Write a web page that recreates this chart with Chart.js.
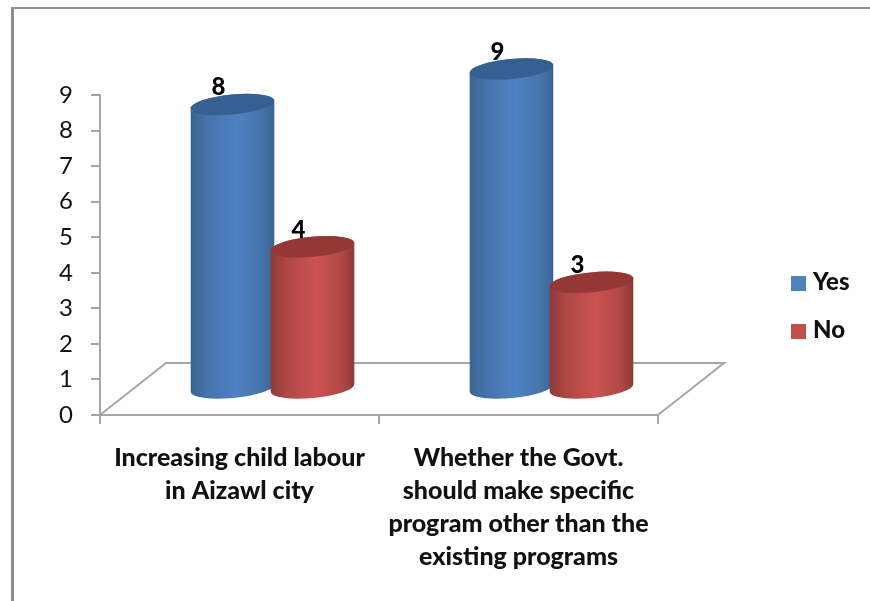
<!DOCTYPE html>
<html lang="en">
<head>
  <meta charset="UTF-8">
  <title>Child labour survey</title>
  <script src="https://cdn.jsdelivr.net/npm/chart.js"></script>
  <style>
    body { margin: 0; background: #fff; font-family: Lato, sans-serif; }
    #frame {
      position: absolute; left: 11px; top: 7px; right: 0; bottom: 0;
      border-left: 3px solid #8e8e8e; border-top: 2px solid #8e8e8e;
    }
    #wrap { position: absolute; left: 0; top: 0; width: 870px; height: 601px; }
    #legend { position: absolute; left: 791px; top: 264px; font-weight: 900; font-size: 24px; color: #111; }
    #legend div { height: 48px; line-height: 34px; white-space: nowrap; }
    #legend span { display: inline-block; width: 15px; height: 15px; margin-right: 7px; vertical-align: -1px; }
  </style>
</head>
<body>
  <div id="frame"></div>
  <div id="wrap"><canvas id="chart" width="870" height="601"></canvas></div>
  <div id="legend"></div>

  <script>
    const categories = [
      ['Increasing child labour', 'in Aizawl city'],
      ['Whether the Govt.', 'should make specific', 'program other than the', 'existing programs']
    ];
    const yesValues = [8, 9];
    const noValues = [4, 3];
    const yTicks = [0, 1, 2, 3, 4, 5, 6, 7, 8, 9];

    const axisGrey = '#a6a6a6';
    // how far the floor recedes, cylinders stand halfway back on it
    const floorDx = 66, floorDy = 52;

    const palette = [
      { edge: '#3a6494', side: '#4673a9', mid: '#4f82c4', top: '#376092' },
      { edge: '#8c3a38', side: '#b04745', mid: '#cb5350', top: '#953735' }
    ];

    function drawFloor(chart) {
      const { ctx, chartArea: a } = chart;
      ctx.save();
      ctx.strokeStyle = axisGrey;
      ctx.lineWidth = 2;
      ctx.beginPath();
      ctx.moveTo(a.left, a.bottom);
      ctx.lineTo(a.left + floorDx, a.bottom - floorDy);
      ctx.lineTo(a.right + floorDx, a.bottom - floorDy);
      ctx.lineTo(a.right, a.bottom);
      ctx.stroke();
      ctx.restore();
    }

    function drawCylinder(ctx, bar, colors) {
      const cx = bar.x + floorDx / 2;
      const topY = bar.y - floorDy / 2;
      const baseY = bar.base - floorDy / 2;
      const rx = bar.width / 2, ry = 10, tilt = -0.095;

      const grad = ctx.createLinearGradient(cx - rx, 0, cx + rx, 0);
      grad.addColorStop(0, colors.edge);
      grad.addColorStop(0.2, colors.side);
      grad.addColorStop(0.55, colors.mid);
      grad.addColorStop(0.85, colors.side);
      grad.addColorStop(1, colors.edge);

      ctx.fillStyle = grad;
      ctx.beginPath();
      ctx.ellipse(cx, topY, rx, ry, tilt, Math.PI, 0);
      ctx.ellipse(cx, baseY, rx, ry, tilt, 0, Math.PI);
      ctx.closePath();
      ctx.fill();

      ctx.fillStyle = colors.top;
      ctx.beginPath();
      ctx.ellipse(cx, topY, rx, ry, tilt, 0, Math.PI * 2);
      ctx.fill();
    }

    const cylinders = {
      id: 'cylinders',
      beforeDatasetsDraw: drawFloor,
      beforeDatasetDraw: () => false,
      afterDatasetsDraw(chart) {
        const ctx = chart.ctx;
        chart.data.datasets.forEach((ds, i) => {
          chart.getDatasetMeta(i).data.forEach(bar => {
            drawCylinder(ctx, bar, palette[i]);
          });
        });
        // value labels sit above the back rim, left of centre
        ctx.save();
        ctx.font = '900 24px Lato';
        ctx.fillStyle = '#000';
        ctx.textAlign = 'center';
        ctx.textBaseline = 'middle';
        chart.data.datasets.forEach((ds, i) => {
          chart.getDatasetMeta(i).data.forEach((bar, j) => {
            ctx.fillText(ds.data[j], bar.x + floorDx / 2 - 14, bar.y - 43);
          });
        });
        ctx.restore();
      }
    };

    const chart = new Chart(document.getElementById('chart'), {
      type: 'bar',
      data: {
        labels: categories,
        datasets: [
          { label: 'Yes', data: yesValues, backgroundColor: '#4f81bd' },
          { label: 'No', data: noValues, backgroundColor: '#c0504d' }
        ]
      },
      options: {
        responsive: false,
        animation: false,
        events: [],
        categoryPercentage: 0.5735,
        barPercentage: 1.05,
        layout: { padding: { top: 95, right: 212 } },
        plugins: { legend: { display: false }, tooltip: { enabled: false } },
        scales: {
          x: {
            afterFit(scale) { scale.height = 186; },
            border: { color: axisGrey, width: 2 },
            grid: { drawOnChartArea: false, color: axisGrey, lineWidth: 2, tickLength: 9 },
            ticks: {
              color: '#111', padding: 17, maxRotation: 0, autoSkip: false,
              font: { family: 'Lato', size: 25, weight: '900', lineHeight: 1.33 }
            }
          },
          y: {
            min: 0,
            max: 9,
            afterFit(scale) { scale.width = 100; },
            afterBuildTicks(scale) { scale.ticks = yTicks.map(v => ({ value: v })); },
            border: { color: axisGrey, width: 2 },
            grid: { drawOnChartArea: false, color: axisGrey, lineWidth: 2, tickLength: 9 },
            ticks: { color: '#111', padding: 18, font: { family: 'Lato', size: 24 } }
          }
        }
      },
      plugins: [cylinders]
    });

    // legend next to the plot, built from the datasets
    const legend = document.getElementById('legend');
    chart.data.datasets.forEach(ds => {
      const row = document.createElement('div');
      const box = document.createElement('span');
      box.style.background = ds.backgroundColor;
      row.appendChild(box);
      row.appendChild(document.createTextNode(ds.label));
      legend.appendChild(row);
    });
  </script>
</body>
</html>
